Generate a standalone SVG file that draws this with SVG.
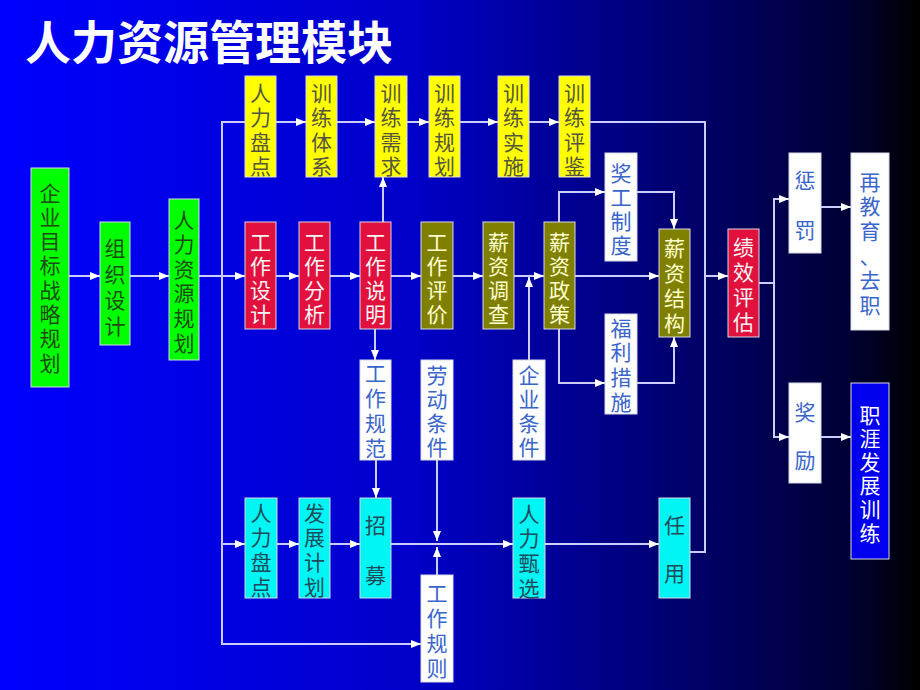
<svg xmlns="http://www.w3.org/2000/svg" width="920" height="690" viewBox="0 0 920 690">
<defs>
<linearGradient id="bg" x1="0" y1="0" x2="1" y2="0">
<stop offset="0" stop-color="#0000ff"/>
<stop offset="0.45" stop-color="#0000c8"/>
<stop offset="0.75" stop-color="#00006a"/>
<stop offset="0.92" stop-color="#000035"/>
<stop offset="1" stop-color="#000000"/>
</linearGradient>
<marker id="a" markerWidth="10" markerHeight="8" refX="10" refY="4" orient="auto" markerUnits="userSpaceOnUse">
<path d="M0,0 L10,4 L0,8 z" fill="#ffffff"/>
</marker>
<style>
.t{font-family:"Noto Sans CJK SC","Noto Sans CJK TC",sans-serif;font-size:21px;text-anchor:middle}
.bx{stroke:#d8d8e8;stroke-width:1}
.g rect{fill:#00ff00}.g text{fill:#1f4a10}
.y rect{fill:#ffff00}.y text{fill:#55553f}
.r rect{fill:#e2103c}.r text{fill:#f4f4f4}
.o rect{fill:#808000}.o text{fill:#ffffd0}
.w rect{fill:#ffffff}.w text{fill:#3a66cc}
.c rect{fill:#00f5f5}.c text{fill:#1f4a5a}
.b rect{fill:#0000ee}.b text{fill:#ffffff}
#connectors path{fill:none;stroke:#ccccff;stroke-width:2}
#connectors .ar{marker-end:url(#a)}
</style>
</defs>
<rect x="0" y="0" width="920" height="690" fill="url(#bg)"/>
<text x="25" y="59" font-family="Noto Sans CJK SC, sans-serif" font-size="46" font-weight="bold" fill="#ffffff">人力资源管理模块</text>

<g id="connectors">
<path d="M245,122 H222 V644 H421" class="ar"/>
<path d="M222,544 H245" class="ar"/>
<path d="M69,276 H100" class="ar"/>
<path d="M130,276 H169" class="ar"/>
<path d="M199,276 H245" class="ar"/>
<path d="M276,122 H306" class="ar"/>
<path d="M337,122 H375" class="ar"/>
<path d="M407,122 H429" class="ar"/>
<path d="M460,122 H498" class="ar"/>
<path d="M529,122 H559" class="ar"/>
<path d="M590,122 H705 V552 H690"/>
<path d="M705,276 H728" class="ar"/>
<path d="M276,276 H299" class="ar"/>
<path d="M330,276 H360" class="ar"/>
<path d="M391,276 H421" class="ar"/>
<path d="M453,276 H483" class="ar"/>
<path d="M514,276 H544" class="ar"/>
<path d="M575,276 H659" class="ar"/>
<path d="M383,222 V177" class="ar"/>
<path d="M375,329 V360" class="ar"/>
<path d="M529,360 V277" class="ar"/>
<path d="M559,222 V192 H605" class="ar"/>
<path d="M637,192 H674 V229" class="ar"/>
<path d="M559,329 V383 H605" class="ar"/>
<path d="M637,383 H674 V337" class="ar"/>
<path d="M759,283 H774"/>
<path d="M774,283 V199 H789" class="ar"/>
<path d="M774,283 V437 H789" class="ar"/>
<path d="M821,207 H851" class="ar"/>
<path d="M821,437 H851" class="ar"/>
<path d="M277,544 H299" class="ar"/>
<path d="M330,544 H360" class="ar"/>
<path d="M391,544 H513" class="ar"/>
<path d="M545,544 H659" class="ar"/>
<path d="M376,460 V498" class="ar"/>
<path d="M437,460 V541" class="ar"/>
<path d="M437,575 V547" class="ar"/>
</g>

<g id="n-qiye" class="g"><rect class="bx" x="31" y="168" width="38" height="219"/>
<text class="t" y="200.5"><tspan x="50">企</tspan><tspan x="50" dy="24.3">业</tspan><tspan x="50" dy="24.3">目</tspan><tspan x="50" dy="24.3">标</tspan><tspan x="50" dy="24.3">战</tspan><tspan x="50" dy="24.3">略</tspan><tspan x="50" dy="24.3">规</tspan><tspan x="50" dy="24.3">划</tspan></text></g>
<g id="n-zuzhi" class="g"><rect class="bx" x="100" y="222" width="30" height="123"/>
<text class="t" y="255.5"><tspan x="115">组</tspan><tspan x="115" dy="26">织</tspan><tspan x="115" dy="26">设</tspan><tspan x="115" dy="26">计</tspan></text></g>
<g id="n-guihua" class="g"><rect class="bx" x="169" y="199" width="30" height="161"/>
<text class="t" y="227.5"><tspan x="184">人</tspan><tspan x="184" dy="24.6">力</tspan><tspan x="184" dy="24.6">资</tspan><tspan x="184" dy="24.6">源</tspan><tspan x="184" dy="24.6">规</tspan><tspan x="184" dy="24.6">划</tspan></text></g>

<g id="n-pandian1" class="y"><rect class="bx" x="245" y="76" width="31" height="101"/>
<text class="t" y="100.5"><tspan x="260.5">人</tspan><tspan x="260.5" dy="24.5">力</tspan><tspan x="260.5" dy="24.5">盘</tspan><tspan x="260.5" dy="24.5">点</tspan></text></g>
<g id="n-tixi" class="y"><rect class="bx" x="306" y="76" width="31" height="101"/>
<text class="t" y="100.5"><tspan x="321.5">训</tspan><tspan x="321.5" dy="24.5">练</tspan><tspan x="321.5" dy="24.5">体</tspan><tspan x="321.5" dy="24.5">系</tspan></text></g>
<g id="n-xuqiu" class="y"><rect class="bx" x="375" y="76" width="32" height="101"/>
<text class="t" y="100.5"><tspan x="391">训</tspan><tspan x="391" dy="24.5">练</tspan><tspan x="391" dy="24.5">需</tspan><tspan x="391" dy="24.5">求</tspan></text></g>
<g id="n-pxgh" class="y"><rect class="bx" x="429" y="76" width="31" height="101"/>
<text class="t" y="100.5"><tspan x="444.5">训</tspan><tspan x="444.5" dy="24.5">练</tspan><tspan x="444.5" dy="24.5">规</tspan><tspan x="444.5" dy="24.5">划</tspan></text></g>
<g id="n-shishi" class="y"><rect class="bx" x="498" y="76" width="31" height="101"/>
<text class="t" y="100.5"><tspan x="513.5">训</tspan><tspan x="513.5" dy="24.5">练</tspan><tspan x="513.5" dy="24.5">实</tspan><tspan x="513.5" dy="24.5">施</tspan></text></g>
<g id="n-pingjian" class="y"><rect class="bx" x="559" y="76" width="31" height="101"/>
<text class="t" y="100.5"><tspan x="574.5">训</tspan><tspan x="574.5" dy="24.5">练</tspan><tspan x="574.5" dy="24.5">评</tspan><tspan x="574.5" dy="24.5">鉴</tspan></text></g>

<g id="n-sheji" class="r"><rect class="bx" x="245" y="222" width="31" height="107"/>
<text class="t" y="249.5"><tspan x="260.5">工</tspan><tspan x="260.5" dy="24">作</tspan><tspan x="260.5" dy="24">设</tspan><tspan x="260.5" dy="24">计</tspan></text></g>
<g id="n-fenxi" class="r"><rect class="bx" x="299" y="222" width="31" height="107"/>
<text class="t" y="249.5"><tspan x="314.5">工</tspan><tspan x="314.5" dy="24">作</tspan><tspan x="314.5" dy="24">分</tspan><tspan x="314.5" dy="24">析</tspan></text></g>
<g id="n-shuoming" class="r"><rect class="bx" x="360" y="222" width="31" height="107"/>
<text class="t" y="249.5"><tspan x="375.5">工</tspan><tspan x="375.5" dy="24">作</tspan><tspan x="375.5" dy="24">说</tspan><tspan x="375.5" dy="24">明</tspan></text></g>
<g id="n-pingjia" class="o"><rect class="bx" x="421" y="222" width="32" height="107"/>
<text class="t" y="249.5"><tspan x="437">工</tspan><tspan x="437" dy="24">作</tspan><tspan x="437" dy="24">评</tspan><tspan x="437" dy="24">价</tspan></text></g>
<g id="n-diaocha" class="o"><rect class="bx" x="483" y="222" width="31" height="107"/>
<text class="t" y="249.5"><tspan x="498.5">薪</tspan><tspan x="498.5" dy="24">资</tspan><tspan x="498.5" dy="24">调</tspan><tspan x="498.5" dy="24">查</tspan></text></g>
<g id="n-zhengce" class="o"><rect class="bx" x="544" y="222" width="31" height="107"/>
<text class="t" y="249.5"><tspan x="559.5">薪</tspan><tspan x="559.5" dy="24">资</tspan><tspan x="559.5" dy="24">政</tspan><tspan x="559.5" dy="24">策</tspan></text></g>
<g id="n-jiegou" class="o"><rect class="bx" x="659" y="229" width="31" height="108"/>
<text class="t" y="255.5"><tspan x="674.5">薪</tspan><tspan x="674.5" dy="25">资</tspan><tspan x="674.5" dy="25">结</tspan><tspan x="674.5" dy="25">构</tspan></text></g>
<g id="n-jixiao" class="r"><rect class="bx" x="728" y="229" width="31" height="108"/>
<text class="t" y="254.5"><tspan x="743.5">绩</tspan><tspan x="743.5" dy="25.3">效</tspan><tspan x="743.5" dy="25.3">评</tspan><tspan x="743.5" dy="25.3">估</tspan></text></g>

<g id="n-jianggong" class="w"><rect class="bx" x="605" y="153" width="32" height="108"/>
<text class="t" y="180.5"><tspan x="621">奖</tspan><tspan x="621" dy="24.3">工</tspan><tspan x="621" dy="24.3">制</tspan><tspan x="621" dy="24.3">度</tspan></text></g>
<g id="n-fuli" class="w"><rect class="bx" x="605" y="314" width="32" height="100"/>
<text class="t" y="335.5"><tspan x="621">福</tspan><tspan x="621" dy="24.7">利</tspan><tspan x="621" dy="24.7">措</tspan><tspan x="621" dy="24.7">施</tspan></text></g>
<g id="n-guifan" class="w"><rect class="bx" x="360" y="360" width="31" height="100"/>
<text class="t" y="380.5"><tspan x="375.5">工</tspan><tspan x="375.5" dy="25">作</tspan><tspan x="375.5" dy="25">规</tspan><tspan x="375.5" dy="25">范</tspan></text></g>
<g id="n-laodong" class="w"><rect class="bx" x="421" y="360" width="32" height="100"/>
<text class="t" y="382.5"><tspan x="437">劳</tspan><tspan x="437" dy="24.3">动</tspan><tspan x="437" dy="24.3">条</tspan><tspan x="437" dy="24.3">件</tspan></text></g>
<g id="n-qiyetj" class="w"><rect class="bx" x="513" y="360" width="32" height="100"/>
<text class="t" y="382.5"><tspan x="529">企</tspan><tspan x="529" dy="24.3">业</tspan><tspan x="529" dy="24.3">条</tspan><tspan x="529" dy="24.3">件</tspan></text></g>
<g id="n-guize" class="w"><rect class="bx" x="421" y="575" width="32" height="107"/>
<text class="t" y="600.5"><tspan x="437">工</tspan><tspan x="437" dy="25">作</tspan><tspan x="437" dy="25">规</tspan><tspan x="437" dy="25">则</tspan></text></g>

<g id="n-chengfa" class="w"><rect class="bx" x="789" y="153" width="32" height="100"/>
<text class="t" y="187.5"><tspan x="805">惩</tspan><tspan x="805" dy="50">罚</tspan></text></g>
<g id="n-zaijiaoyu" class="w"><rect class="bx" x="851" y="153" width="38" height="177"/>
<text class="t" y="189.5"><tspan x="870">再</tspan><tspan x="870" dy="24.7">教</tspan><tspan x="870" dy="24.7">育</tspan><tspan x="870" dy="24.7">、</tspan><tspan x="870" dy="24.7">去</tspan><tspan x="870" dy="24.7">职</tspan></text></g>
<g id="n-jiangli" class="w"><rect class="bx" x="789" y="383" width="32" height="100"/>
<text class="t" y="419.5"><tspan x="805">奖</tspan><tspan x="805" dy="48">励</tspan></text></g>
<g id="n-zhiya" class="b"><rect class="bx" x="851" y="383" width="38" height="176"/>
<text class="t" y="422.5"><tspan x="870">职</tspan><tspan x="870" dy="23.6">涯</tspan><tspan x="870" dy="23.6">发</tspan><tspan x="870" dy="23.6">展</tspan><tspan x="870" dy="23.6">训</tspan><tspan x="870" dy="23.6">练</tspan></text></g>

<g id="n-pandian2" class="c"><rect class="bx" x="245" y="498" width="32" height="100"/>
<text class="t" y="520.5"><tspan x="261">人</tspan><tspan x="261" dy="24.7">力</tspan><tspan x="261" dy="24.7">盘</tspan><tspan x="261" dy="24.7">点</tspan></text></g>
<g id="n-fazhan" class="c"><rect class="bx" x="299" y="498" width="31" height="100"/>
<text class="t" y="520.5"><tspan x="314.5">发</tspan><tspan x="314.5" dy="24.7">展</tspan><tspan x="314.5" dy="24.7">计</tspan><tspan x="314.5" dy="24.7">划</tspan></text></g>
<g id="n-zhaomu" class="c"><rect class="bx" x="360" y="498" width="31" height="100"/>
<text class="t" y="532.5"><tspan x="375.5">招</tspan><tspan x="375.5" dy="50">募</tspan></text></g>
<g id="n-zhenxuan" class="c"><rect class="bx" x="513" y="498" width="32" height="100"/>
<text class="t" y="521.5"><tspan x="529">人</tspan><tspan x="529" dy="24.7">力</tspan><tspan x="529" dy="24.7">甄</tspan><tspan x="529" dy="24.7">选</tspan></text></g>
<g id="n-renyong" class="c"><rect class="bx" x="659" y="498" width="31" height="100"/>
<text class="t" y="532.5"><tspan x="674.5">任</tspan><tspan x="674.5" dy="48">用</tspan></text></g>
</svg>
